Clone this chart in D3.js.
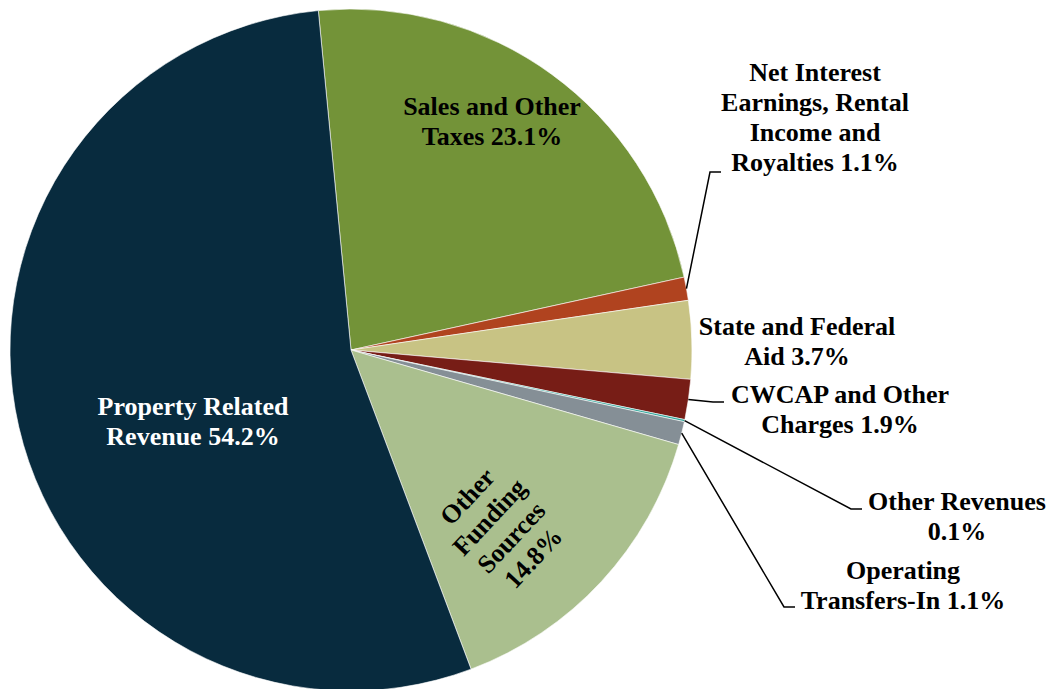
<!DOCTYPE html>
<meta charset="UTF-8">
<style>
  body { margin: 0; background: #fff; }
  text { font-family: "Liberation Serif", "Times New Roman", serif; font-weight: bold; font-size: 26px; }
</style>
<svg width="1057" height="689"></svg>
<script src="https://d3js.org/d3.v7.min.js"></script>
<script>

// slices in clockwise order, starting just left of 12 o'clock
var categories = ["Sales and Other Taxes", "Net Interest Earnings, Rental Income and Royalties",
                  "State and Federal Aid", "CWCAP and Other Charges", "Other Revenues",
                  "Operating Transfers-In", "Other Funding Sources", "Property Related Revenue"];
var values = [23.1, 1.1, 3.7, 1.9, 0.1, 1.1, 14.8, 54.2];
var colors = ["#739338", "#b0431f", "#c8c384", "#771d16", "#2fa69a", "#858f96", "#aabf8e", "#082b3e"];
// label text split into lines; "" as the last line puts the percent on its own line
var labelLines = [
    ["Sales and Other", "Taxes"],
    ["Net Interest", "Earnings, Rental", "Income and", "Royalties"],
    ["State and Federal", "Aid"],
    ["CWCAP and Other", "Charges"],
    ["Other Revenues", ""],
    ["Operating", "Transfers-In"],
    ["Other", "Funding", "Sources", ""],
    ["Property Related", "Revenue"]
];

// label layout (centre of text block, rotation, leader elbow)
var layout = [
    {x: 492, y: 121, rot: 0, fill: "#000"},
    {x: 815, y: 117, rot: 0, fill: "#000", elbow: [710, 172]},
    {x: 797, y: 341, rot: 0, fill: "#000"},
    {x: 840, y: 409, rot: 0, fill: "#000", elbow: [713, 402]},
    {x: 957, y: 516, rot: 0, fill: "#000", elbow: [851, 509]},
    {x: 903, y: 585, rot: 0, fill: "#000", elbow: [784, 607]},
    {x: 500, y: 527, rot: -47, fill: "#000"},
    {x: 193, y: 421, rot: 0, fill: "#fff"}
];

var svg = d3.select("svg"),
    cx = 351, cy = 350, radius = 341,
    lineH = 30,
    g = svg.append("g").attr("transform", "translate(" + cx + "," + cy + ")");

var start = -5.5 * Math.PI / 180;

var pie = d3.pie()
    .sort(null)
    .startAngle(start)
    .endAngle(start + 2 * Math.PI)
    .value(function(d) { return d; });

var arc = d3.arc().innerRadius(0).outerRadius(radius);
var edge = d3.arc().innerRadius(radius).outerRadius(radius);

var arcs = pie(values);

g.selectAll("path.slice")
    .data(arcs)
    .enter().append("path")
    .attr("class", "slice")
    .attr("d", arc)
    .attr("fill", function(d, i) { return colors[i]; })
    .attr("stroke", "#fff")
    .attr("stroke-width", 0.6);

// leader lines
arcs.forEach(function(d, i) {
    var L = layout[i];
    if (!L.elbow) return;
    var p = edge.centroid(d);
    var e = [L.elbow[0] - cx, L.elbow[1] - cy];
    g.append("polyline")
        .attr("points", [p, e, [e[0] + 11, e[1]]].map(function(q) { return q.join(","); }).join(" "))
        .attr("fill", "none")
        .attr("stroke", "#000")
        .attr("stroke-width", 1.5);
});

// labels
arcs.forEach(function(d, i) {
    var L = layout[i];
    var pct = d.data.toFixed(1) + "%";
    var lines = labelLines[i].slice();
    var last = lines.length - 1;
    lines[last] = lines[last] === "" ? pct : lines[last] + " " + pct;
    var t = svg.append("text")
        .attr("transform", "translate(" + L.x + "," + L.y + ") rotate(" + L.rot + ")")
        .attr("text-anchor", "middle")
        .attr("fill", L.fill);
    lines.forEach(function(s, k) {
        t.append("tspan")
            .attr("x", 0)
            .attr("y", (k - (lines.length - 1) / 2) * lineH)
            .attr("dy", "0.35em")
            .text(s);
    });
});

</script>
